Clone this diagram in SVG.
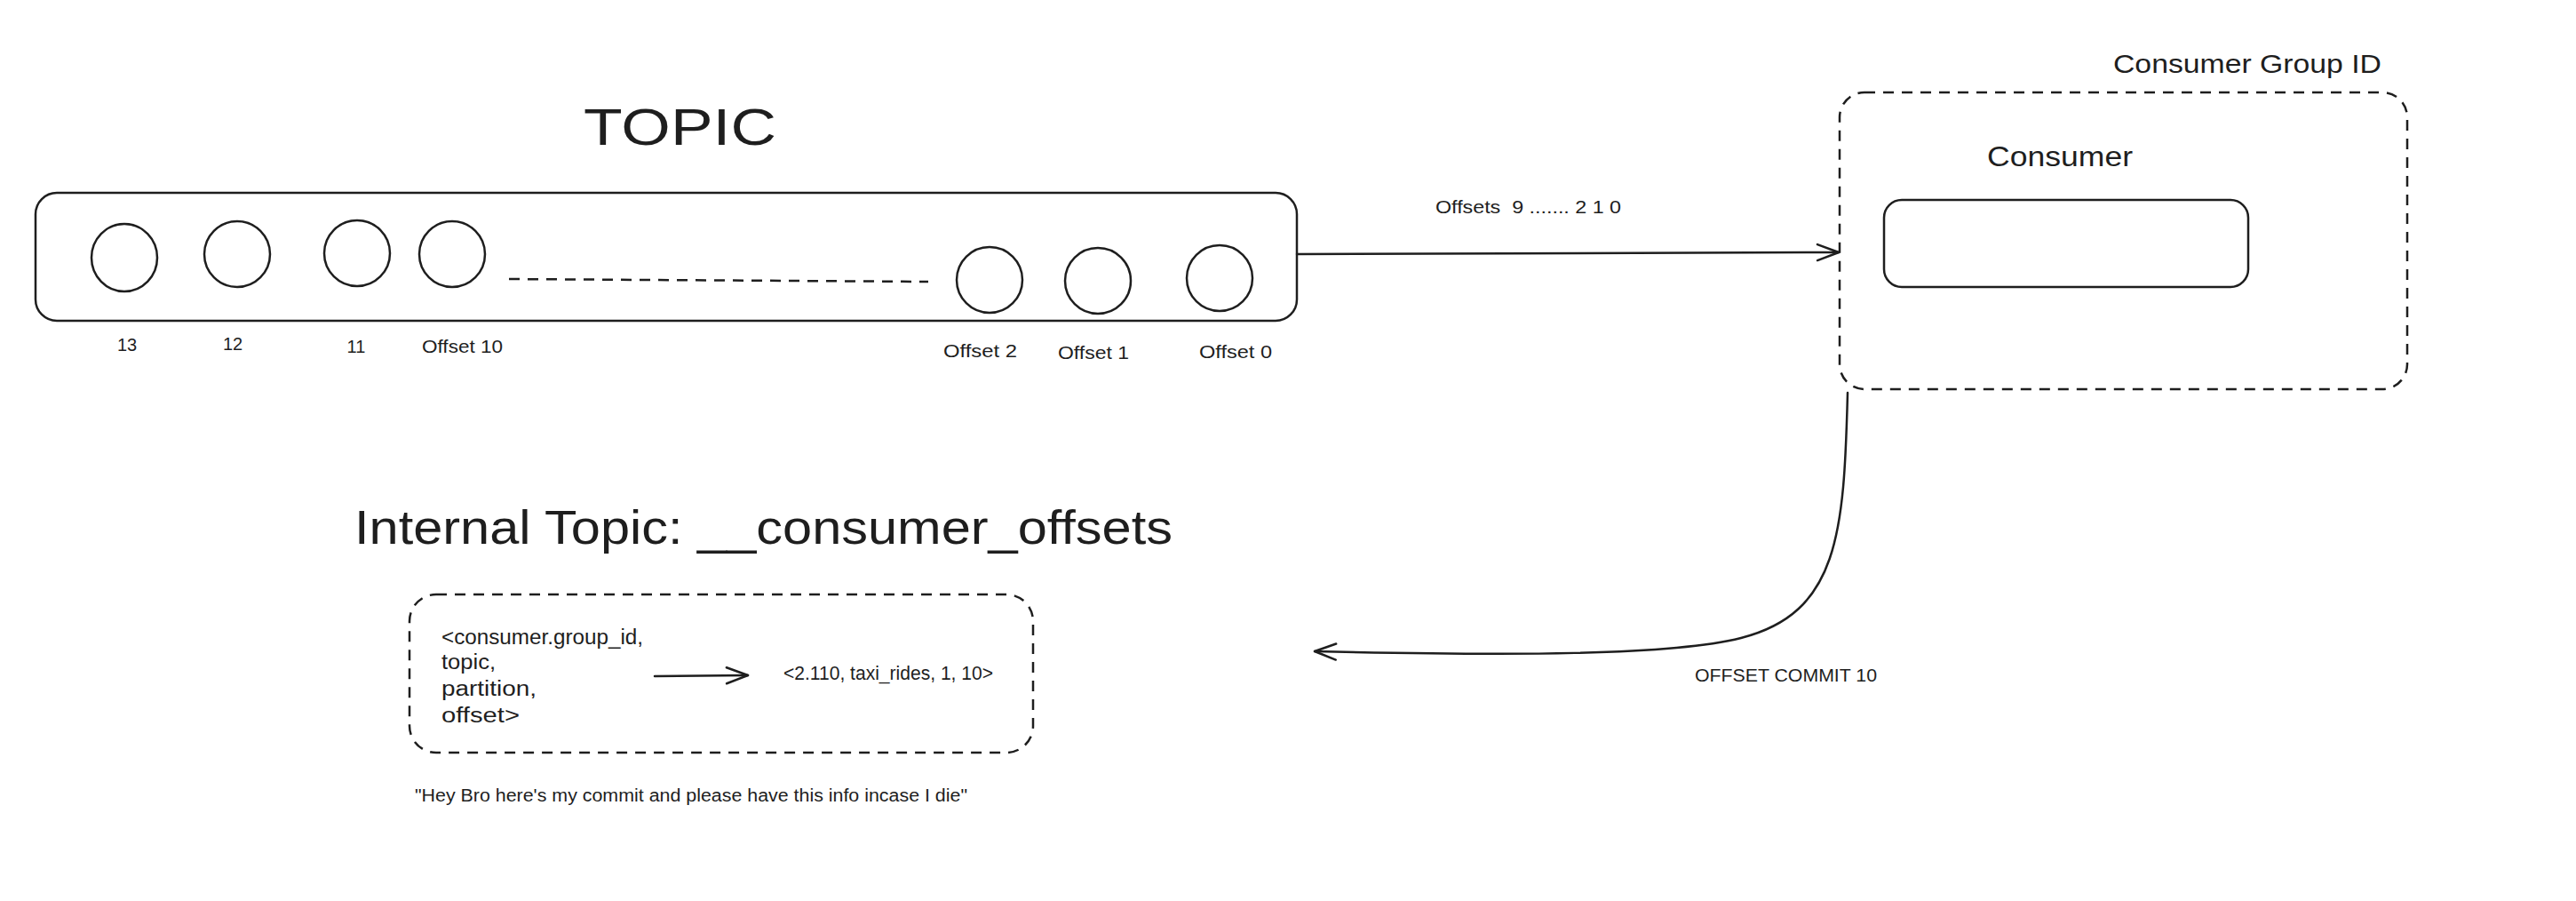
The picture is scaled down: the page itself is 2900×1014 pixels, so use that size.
<svg xmlns="http://www.w3.org/2000/svg" width="2900" height="1014" viewBox="0 0 2900 1014">
<style>
.s{fill:none;stroke:#1e1e1e;stroke-width:2.5;stroke-linecap:round;stroke-linejoin:round}
.d{stroke-dasharray:12 9;stroke-linecap:butt}
.t{font-family:"Liberation Sans",Arial,sans-serif;fill:#1e1e1e}
</style>
<defs>
<marker id="ah" markerUnits="userSpaceOnUse" markerWidth="30" markerHeight="24" refX="24" refY="10" orient="auto" overflow="visible">
<path d="M0,1 L24,10 L0,19" fill="none" stroke="#1e1e1e" stroke-width="2.5" stroke-linecap="round" stroke-linejoin="round"/>
</marker>
</defs>
<rect width="2900" height="1014" fill="#ffffff"/>

<g id="topic-title"><text class="t" x="657" y="163" font-size="57" textLength="217" lengthAdjust="spacingAndGlyphs">TOPIC</text></g>

<g id="topic">
<rect class="s" x="40" y="217" width="1420" height="144" rx="24"/>
<line class="s d" x1="573" y1="314" x2="1045" y2="317"/>
</g>
<g id="msg13"><ellipse class="s" cx="140" cy="290" rx="37" ry="38"/><text class="t" x="143" y="395" font-size="20" text-anchor="middle">13</text></g>
<g id="msg12"><ellipse class="s" cx="267" cy="286" rx="37" ry="37"/><text class="t" x="262" y="394" font-size="20" text-anchor="middle">12</text></g>
<g id="msg11"><ellipse class="s" cx="402" cy="285" rx="37" ry="37"/><text class="t" x="401" y="397" font-size="20" text-anchor="middle">11</text></g>
<g id="msg10"><ellipse class="s" cx="509" cy="286" rx="37" ry="37"/><text class="t" x="475" y="397" font-size="20" textLength="91" lengthAdjust="spacingAndGlyphs">Offset 10</text></g>
<g id="msg2"><ellipse class="s" cx="1114" cy="315" rx="37" ry="37"/><text class="t" x="1062" y="402" font-size="20" textLength="83" lengthAdjust="spacingAndGlyphs">Offset 2</text></g>
<g id="msg1"><ellipse class="s" cx="1236" cy="316" rx="37" ry="37"/><text class="t" x="1191" y="404" font-size="20" textLength="80" lengthAdjust="spacingAndGlyphs">Offset 1</text></g>
<g id="msg0"><ellipse class="s" cx="1373" cy="313" rx="37" ry="37"/><text class="t" x="1350" y="403" font-size="20" textLength="82" lengthAdjust="spacingAndGlyphs">Offset 0</text></g>

<g id="consumer-group">
<rect class="s d" x="2071" y="104" width="639" height="334" rx="28"/>
<text class="t" x="2379" y="82" font-size="29" textLength="302" lengthAdjust="spacingAndGlyphs">Consumer Group ID</text>
</g>
<g id="consumer">
<rect class="s" x="2121" y="225" width="410" height="98" rx="20"/>
<text class="t" x="2237" y="187" font-size="31" textLength="164" lengthAdjust="spacingAndGlyphs">Consumer</text>
</g>

<g id="internal-topic-title"><text class="t" x="399" y="612" font-size="54" textLength="921" lengthAdjust="spacingAndGlyphs">Internal Topic: __consumer_offsets</text></g>

<g id="internal-topic">
<rect class="s d" x="461" y="669" width="702" height="178" rx="30"/>
<text class="t" x="497" y="725" font-size="23" textLength="227" lengthAdjust="spacingAndGlyphs">&lt;consumer.group_id,</text>
<text class="t" x="497" y="753" font-size="23" textLength="61" lengthAdjust="spacingAndGlyphs">topic,</text>
<text class="t" x="497" y="783" font-size="23" textLength="107" lengthAdjust="spacingAndGlyphs">partition,</text>
<text class="t" x="497" y="813" font-size="23" textLength="88" lengthAdjust="spacingAndGlyphs">offset&gt;</text>
<text class="t" x="882" y="765" font-size="22" textLength="236" lengthAdjust="spacingAndGlyphs">&lt;2.110, taxi_rides, 1, 10&gt;</text>
<line class="s" x1="737" y1="761" x2="842" y2="760" marker-end="url(#ah)"/>
</g>

<g id="quote"><text class="t" x="467" y="902" font-size="20" textLength="622" lengthAdjust="spacingAndGlyphs">"Hey Bro here's my commit and please have this info incase I die"</text></g>

<g id="connectors">
<line class="s" x1="1460" y1="286" x2="2070" y2="284" marker-end="url(#ah)"/>
<text class="t" x="1616" y="240" font-size="20" textLength="209" lengthAdjust="spacingAndGlyphs" xml:space="preserve">Offsets  9 ....... 2 1 0</text>
<path class="s" d="M2080 442 C2076 600 2070 690 1960 718 C1880 738 1700 738 1480 733" marker-end="url(#ah)"/>
<text class="t" x="1908" y="767" font-size="20" textLength="205" lengthAdjust="spacingAndGlyphs">OFFSET COMMIT 10</text>
</g>
</svg>
